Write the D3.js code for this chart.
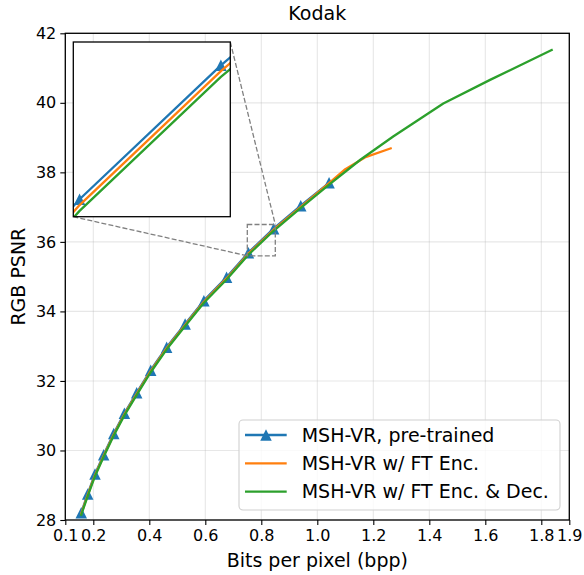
<!DOCTYPE html>
<html>
<head>
<meta charset="utf-8">
<script src="https://cdn.jsdelivr.net/npm/d3@7"></script>
<style>
  html, body { margin: 0; padding: 0; background: #fff; }
  svg { display: block; font-family: "DejaVu Sans", sans-serif; }
</style>
</head>
<body>
<svg id="chart" width="584" height="575"></svg>
<script>
// Rate–distortion results on Kodak (bpp vs RGB PSNR)
const bppPre  = [0.157, 0.180, 0.206, 0.237, 0.273, 0.311, 0.355, 0.405, 0.462, 0.528, 0.595, 0.676, 0.754, 0.844, 0.941, 1.042];
const psnrPre = [28.21, 28.75, 29.32, 29.88, 30.49, 31.07, 31.66, 32.31, 32.97, 33.64, 34.31, 34.98, 35.69, 36.38, 37.04, 37.70];

const bppEnc  = [0.157, 0.180, 0.206, 0.237, 0.273, 0.311, 0.355, 0.405, 0.462, 0.528, 0.595, 0.676, 0.754, 0.844, 0.941, 1.042, 1.100, 1.170, 1.262];
const psnrEnc = [28.18, 28.72, 29.29, 29.85, 30.46, 31.04, 31.63, 32.28, 32.94, 33.61, 34.28, 34.95, 35.66, 36.35, 37.01, 37.69, 38.09, 38.43, 38.69];

const bppEncDec  = [0.157, 0.180, 0.206, 0.237, 0.273, 0.311, 0.355, 0.405, 0.462, 0.528, 0.595, 0.676, 0.754, 0.844, 0.941, 1.042, 1.155, 1.271, 1.450, 1.617, 1.837];
const psnrEncDec = [28.15, 28.69, 29.26, 29.82, 30.43, 31.01, 31.60, 32.25, 32.91, 33.58, 34.25, 34.92, 35.63, 36.32, 36.98, 37.65, 38.37, 39.03, 39.98, 40.66, 41.52];

const seriesNames = ["MSH-VR, pre-trained", "MSH-VR w/ FT Enc.", "MSH-VR w/ FT Enc. & Dec."];
const xTicks = [0.1, 0.2, 0.4, 0.6, 0.8, 1.0, 1.2, 1.4, 1.6, 1.8, 1.9];
const yTicks = [28, 30, 32, 34, 36, 38, 40, 42];
const zoomX = [0.75, 0.85];
const zoomY = [35.6, 36.5];

const colors = ["#1f77b4", "#ff7f0e", "#2ca02c"];
const series = [
  { name: seriesNames[0], color: colors[0], marker: true,  pts: d3.zip(bppPre, psnrPre) },
  { name: seriesNames[1], color: colors[1], marker: false, pts: d3.zip(bppEnc, psnrEnc) },
  { name: seriesNames[2], color: colors[2], marker: false, pts: d3.zip(bppEncDec, psnrEncDec) }
];

const svg = d3.select("#chart");
const L = 65.3, R = 569.3, T = 33.3, B = 520;

const x = d3.scaleLinear().domain([0.1, 1.9]).range([L, R]);
const y = d3.scaleLinear().domain([28, 42]).range([B, T]);

// grid
const grid = svg.append("g");
grid.selectAll(".gx").data(xTicks).join("line")
  .attr("x1", d => x(d)).attr("x2", d => x(d)).attr("y1", T).attr("y2", B)
  .attr("stroke", "#b0b0b0").attr("stroke-opacity", 0.3).attr("stroke-width", 1.1);
grid.selectAll(".gy").data(yTicks).join("line")
  .attr("x1", L).attr("x2", R).attr("y1", d => y(d)).attr("y2", d => y(d))
  .attr("stroke", "#b0b0b0").attr("stroke-opacity", 0.3).attr("stroke-width", 1.1);

// triangle marker (matplotlib '^')
const tri = (s) => `M0,${-s/2}L${s/2},${s/2}L${-s/2},${s/2}Z`;
const markerSize = 11.5;
const lineWidth = 2.3;

function drawSeries(g, sx, sy) {
  const line = d3.line().x(d => sx(d[0])).y(d => sy(d[1]));
  series.forEach(s => {
    g.append("path").datum(s.pts)
      .attr("d", line).attr("fill", "none")
      .attr("stroke", s.color).attr("stroke-width", lineWidth)
      .attr("stroke-linejoin", "round").attr("stroke-linecap", "square");
    if (s.marker) {
      g.selectAll(null).data(s.pts).join("path")
        .attr("transform", d => `translate(${sx(d[0])},${sy(d[1])})`)
        .attr("d", tri(markerSize)).attr("fill", s.color);
    }
  });
}

// main plot area
svg.append("clipPath").attr("id", "clipMain")
  .append("rect").attr("x", L).attr("y", T).attr("width", R - L).attr("height", B - T);
const plot = svg.append("g").attr("clip-path", "url(#clipMain)");
drawSeries(plot, x, y);

// zoom indicator rectangle and connectors
const dash = "5,2.2";
const gray = "#808080";
svg.append("rect")
  .attr("x", x(zoomX[0])).attr("y", y(zoomY[1]))
  .attr("width", x(zoomX[1]) - x(zoomX[0])).attr("height", y(zoomY[0]) - y(zoomY[1]))
  .attr("fill", "none").attr("stroke", gray).attr("stroke-width", 1.3).attr("stroke-dasharray", dash);

// inset axes
const IL = 73.3, IR = 230.3, IT = 42, IB = 216.7;
const ix = d3.scaleLinear().domain(zoomX).range([IL, IR]);
const iy = d3.scaleLinear().domain(zoomY).range([IB, IT]);

svg.append("line").attr("x1", IR).attr("y1", IT).attr("x2", x(zoomX[1])).attr("y2", y(zoomY[1]))
  .attr("stroke", gray).attr("stroke-width", 1.3).attr("stroke-dasharray", dash);
svg.append("line").attr("x1", IL).attr("y1", IB).attr("x2", x(zoomX[0])).attr("y2", y(zoomY[0]))
  .attr("stroke", gray).attr("stroke-width", 1.3).attr("stroke-dasharray", dash);

svg.append("rect").attr("x", IL).attr("y", IT).attr("width", IR - IL).attr("height", IB - IT).attr("fill", "#fff");
svg.append("clipPath").attr("id", "clipInset")
  .append("rect").attr("x", IL).attr("y", IT).attr("width", IR - IL).attr("height", IB - IT);
const inset = svg.append("g").attr("clip-path", "url(#clipInset)");
drawSeries(inset, ix, iy);
svg.append("rect").attr("x", IL).attr("y", IT).attr("width", IR - IL).attr("height", IB - IT)
  .attr("fill", "none").attr("stroke", "#000").attr("stroke-width", 1.3);

// axes
const xAxis = svg.append("g").attr("transform", `translate(0,${B})`)
  .call(d3.axisBottom(x).tickValues(xTicks).tickFormat(d3.format(".1f")).tickSize(5).tickPadding(5));
const yAxis = svg.append("g").attr("transform", `translate(${L},0)`)
  .call(d3.axisLeft(y).tickValues(yTicks).tickFormat(d3.format("d")).tickSize(5).tickPadding(4));
[xAxis, yAxis].forEach(a => {
  a.select(".domain").remove();
  a.selectAll("line").attr("stroke", "#000").attr("stroke-width", 1.1);
  a.selectAll("text").attr("font-family", "DejaVu Sans").attr("font-size", 16).attr("fill", "#000");
});
svg.append("rect").attr("x", L).attr("y", T).attr("width", R - L).attr("height", B - T)
  .attr("fill", "none").attr("stroke", "#000").attr("stroke-width", 1.3);

// titles
svg.append("text").attr("x", (L + R) / 2).attr("y", 20).attr("text-anchor", "middle")
  .attr("font-size", 19).text("Kodak");
svg.append("text").attr("x", (L + R) / 2).attr("y", 567).attr("text-anchor", "middle")
  .attr("font-size", 19).text("Bits per pixel (bpp)");
svg.append("text").attr("transform", `translate(25,${(T + B) / 2}) rotate(-90)`).attr("text-anchor", "middle")
  .attr("font-size", 19).text("RGB PSNR");

// legend
const lg = svg.append("g");
lg.append("rect").attr("x", 239).attr("y", 420).attr("width", 321).attr("height", 90)
  .attr("rx", 4).attr("fill", "#fff").attr("fill-opacity", 0.8)
  .attr("stroke", "#d0d0d0").attr("stroke-width", 1.1);
series.forEach((s, i) => {
  const cy = 435 + i * 28.3;
  lg.append("line").attr("x1", 245).attr("x2", 286.7).attr("y1", cy).attr("y2", cy)
    .attr("stroke", s.color).attr("stroke-width", lineWidth);
  if (s.marker) {
    lg.append("path").attr("transform", `translate(266,${cy})`).attr("d", tri(markerSize)).attr("fill", s.color);
  }
  lg.append("text").attr("x", 301.7).attr("y", cy).attr("dy", "0.36em")
    .attr("font-size", 19).text(s.name);
});
</script>
</body>
</html>
